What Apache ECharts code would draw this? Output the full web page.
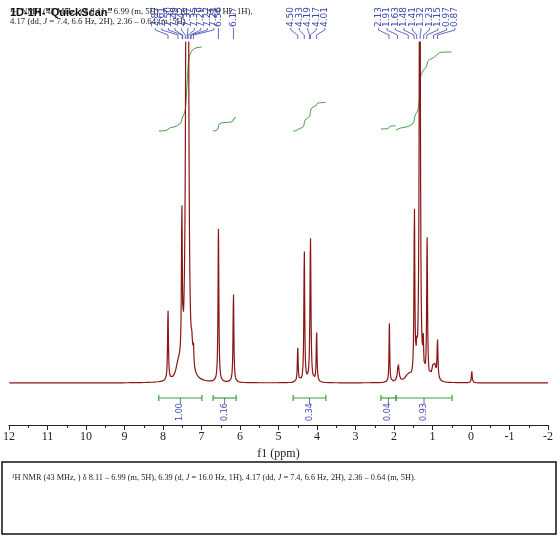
<!DOCTYPE html>
<html>
<head>
<meta charset="utf-8">
<script src="https://cdn.jsdelivr.net/npm/echarts@6/dist/echarts.min.js"></script>
<style>
html, body { margin: 0; padding: 0; background: #fff; }
#main { width: 560px; height: 539px; }
</style>
</head>
<body>
<div id="main"></div>
<script>
// peak list: position (ppm), height above baseline, half width (ppm)
var peakPpm    = [7.87, 7.62, 7.57, 7.51, 7.44, 7.39, 7.35, 7.25, 7.21, 6.56, 6.17, 4.50, 4.33, 4.17, 4.01, 2.12, 1.89, 1.63, 1.47, 1.41, 1.33, 1.24, 1.14, 0.99, 0.94, 0.87, -0.02];
var peakHeight = [71, 9, 7, 150, 8, 600, 500, 18, 20, 153, 90, 34, 133, 146, 50, 59, 18, 7, 168, 20, 600, 30, 140, 12, 12, 40, 13];
var peakWidth  = [0.013, 0.06, 0.05, 0.013, 0.03, 0.02, 0.02, 0.02, 0.013, 0.013, 0.013, 0.013, 0.013, 0.015, 0.013, 0.011, 0.025, 0.08, 0.013, 0.012, 0.015, 0.012, 0.013, 0.04, 0.03, 0.015, 0.011];

// integral regions (ppm) and their values
var integralFrom  = [8.11, 6.70, 4.62, 2.34, 1.95];
var integralTo    = [6.99, 6.10, 3.77, 1.95, 0.49];
var integralValue = ['1.00', '0.16', '0.34', '0.04', '0.93'];
var integralBase  = [252, 252, 252, 254, 253];

// peak pick labels, by group
var peakLabels = [
    ['7.87', '7.61', '7.50', '7.49', '7.42', '7.37', '7.35', '7.29', '7.27', '7.21'],
    ['6.56'],
    ['6.17'],
    ['4.50', '4.33', '4.19', '4.17', '4.01'],
    ['2.13', '1.91', '1.63', '1.48', '1.41', '1.32', '1.23', '1.15', '0.97', '0.87']
];
var labelSpacing = [6.5, 0, 0, 8.5, 8.5];

var xMin = -2, xMax = 12;
var reportText = '{n|\u00b9H NMR (43 MHz, ) \u03b4 8.11 \u2013 6.99 (m, 5H), 6.39 (d, }{i|J}{n| = 16.0 Hz, 1H), 4.17 (dd, }{i|J}{n| = 7.4, 6.6 Hz, 2H), 2.36 \u2013 0.64 (m, 5H).}';
var reportLine1 = '{n|\u00b9H NMR (43 MHz, ) \u03b4 8.11 \u2013 6.99 (m, 5H), 6.39 (d, }{i|J}{n| = 16.0 Hz, 1H),}';
var reportLine2 = '{n|4.17 (dd, }{i|J}{n| = 7.4, 6.6 Hz, 2H), 2.36 \u2013 0.64 (m, 5H).}';

var RED = '#8b1414', GREEN = '#3f9f3f', BLUE = '#3b45b5';
var SERIF = '"Liberation Serif", "DejaVu Serif", serif';

function buildSpectrum() {
    var pts = [];
    var n = 3500;
    for (var i = 0; i <= n; i++) {
        var x = xMin + i * (xMax - xMin) / n;
        var y = 0;
        for (var k = 0; k < peakPpm.length; k++) {
            var d = x - peakPpm[k], w = peakWidth[k];
            y += peakHeight[k] * w * w / (d * d + w * w);
        }
        pts.push([x, y]);
    }
    return pts;
}

// running integral over one region, from high ppm to low ppm
function buildIntegral(spec, idx) {
    var seg = spec.filter(function (p) {
        return p[0] <= integralFrom[idx] && p[0] >= integralTo[idx];
    }).reverse();
    var total = 0;
    seg.forEach(function (p) { total += p[1]; });
    var scale = parseFloat(integralValue[idx]) * 84 / total;
    var cum = 0, out = [];
    seg.forEach(function (p) {
        cum += p[1];
        out.push([p[0], integralBase[idx] + cum * scale]);
    });
    return out;
}

var spectrum = buildSpectrum();
var series = [{
    type: 'line',
    data: spectrum,
    showSymbol: false,
    symbol: 'none',
    clip: true,
    silent: true,
    lineStyle: { color: RED, width: 1.2 },
    z: 3
}];
for (var i = 0; i < integralFrom.length; i++) {
    series.push({
        type: 'line',
        data: buildIntegral(spectrum, i),
        showSymbol: false,
        symbol: 'none',
        silent: true,
        lineStyle: { color: GREEN, width: 1 },
        z: 2
    });
}

var option = {
    animation: false,
    backgroundColor: '#fff',
    grid: { left: 9, right: 12, top: 42, bottom: 114 },
    xAxis: {
        type: 'value',
        inverse: true,
        min: xMin,
        max: xMax,
        interval: 1,
        axisLine: { onZero: false, lineStyle: { color: '#222', width: 1 } },
        axisTick: { length: 5, lineStyle: { color: '#222' } },
        minorTick: { show: true, splitNumber: 2, length: 3, lineStyle: { color: '#222' } },
        splitLine: { show: false },
        axisLabel: { fontFamily: SERIF, fontSize: 12, color: '#222', margin: 6 },
        name: 'f1 (ppm)',
        nameLocation: 'middle',
        nameGap: 19,
        nameTextStyle: { fontFamily: SERIF, fontSize: 12, color: '#222' }
    },
    yAxis: { type: 'value', min: -42, max: 341, show: false },
    series: series
};

var chart = echarts.init(document.getElementById('main'));
chart.setOption(option);

function px(ppm) {
    return chart.convertToPixel({ xAxisIndex: 0 }, ppm);
}

var g = [];
// report text at the top, under the title
g.push({ type: 'text', x: 10, y: 12, z: 10, style: { text: reportLine1, textVerticalAlign: 'middle', fill: '#222',
    rich: { n: { fontFamily: SERIF, fontSize: 8.7, fill: '#222' }, i: { fontFamily: SERIF, fontSize: 8.7, fontStyle: 'italic', fill: '#222' } } } });
g.push({ type: 'text', x: 10, y: 22, z: 10, style: { text: reportLine2, textVerticalAlign: 'middle', fill: '#222',
    rich: { n: { fontFamily: SERIF, fontSize: 8.7, fill: '#222' }, i: { fontFamily: SERIF, fontSize: 8.7, fontStyle: 'italic', fill: '#222' } } } });

// peak pick labels with their connectors
peakLabels.forEach(function (group, gi) {
    var pos = group.map(function (t) { return px(parseFloat(t)); });
    var mean = 0;
    pos.forEach(function (p) { mean += p; });
    mean = mean / pos.length;
    group.forEach(function (t, k) {
        var lx = mean + (k - (group.length - 1) / 2) * labelSpacing[gi];
        g.push({ type: 'text', x: lx, y: 27, rotation: Math.PI / 2, z: 11,
            style: { text: t, font: '9px "DejaVu Sans"', fill: BLUE, textAlign: 'left', textVerticalAlign: 'middle' } });
        g.push({ type: 'polyline', z: 11, shape: { points: [[lx, 28], [lx, 30], [pos[k], 35], [pos[k], 39]] },
            style: { stroke: BLUE, lineWidth: 0.8, fill: null } });
    });
});

// integral bars below the baseline
integralFrom.forEach(function (f, i) {
    var x1 = px(f), x2 = px(integralTo[i]), mid = (x1 + x2) / 2;
    g.push({ type: 'polyline', z: 5, shape: { points: [[x1, 398], [x2, 398]] }, style: { stroke: GREEN, lineWidth: 1.2, fill: null } });
    g.push({ type: 'polyline', z: 5, shape: { points: [[x1, 395], [x1, 401]] }, style: { stroke: GREEN, lineWidth: 1.2, fill: null } });
    g.push({ type: 'polyline', z: 5, shape: { points: [[x2, 395], [x2, 401]] }, style: { stroke: GREEN, lineWidth: 1.2, fill: null } });
    g.push({ type: 'polyline', z: 5, shape: { points: [[mid, 398], [mid, 404]] }, style: { stroke: BLUE, lineWidth: 0.8, fill: null } });
    g.push({ type: 'text', x: mid, y: 421, rotation: Math.PI / 2, z: 5,
        style: { text: integralValue[i], font: '8px "DejaVu Sans"', fill: BLUE, textAlign: 'left', textVerticalAlign: 'middle' } });
});

// title drawn over the report text
g.push({ type: 'text', x: 10, y: 13, z: 12, style: { text: '1D-1H-"QuickScan"', font: 'bold 11px "Liberation Sans"', fill: '#111', textVerticalAlign: 'middle' } });

// report box at the bottom
g.push({ type: 'rect', z: 1, shape: { x: 2, y: 462, width: 554, height: 72 }, style: { fill: '#fff', stroke: '#111', lineWidth: 1.5 } });
g.push({ type: 'text', x: 12, y: 478, z: 2, style: { text: reportText, textVerticalAlign: 'middle', fill: '#222',
    rich: { n: { fontFamily: SERIF, fontSize: 8.3, fill: '#222' }, i: { fontFamily: SERIF, fontSize: 8.3, fontStyle: 'italic', fill: '#222' } } } });

chart.setOption({ graphic: g });
</script>
</body>
</html>
